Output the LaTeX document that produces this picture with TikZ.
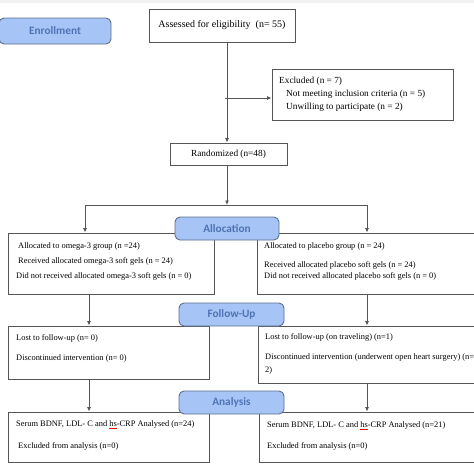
\documentclass[tikz,border=0pt]{standalone}
\usepackage{fontspec}
\setmainfont{Liberation Serif}
\newfontfamily\labfont{Carlito}
\usetikzlibrary{arrows.meta}
\definecolor{boxline}{RGB}{85,85,85}
\definecolor{labfill}{RGB}{166,196,245}
\definecolor{labline}{RGB}{95,110,140}
\definecolor{labtext}{RGB}{80,115,180}
\newcommand{\spellmark}[1]{{\color{red}\underline{\color{black}#1}}}
\tikzstyle{box}=[draw=boxline, fill=white, line width=0.9pt, inner sep=0pt]
\tikzstyle{phase}=[draw=labline, fill=labfill, line width=0.9pt, rounded corners=5pt, inner sep=0pt, font=\labfont\bfseries\fontsize{11.3}{13}\selectfont, text=labtext]
\tikzstyle{txt}=[anchor=west, inner sep=0pt, font=\fontsize{8.4}{10}\selectfont]
\tikzstyle{link}=[draw=boxline, line width=0.9pt]
\tikzstyle{arr}=[link, -{Latex[length=4.5pt,width=4pt]}]

\begin{document}
\begin{tikzpicture}[x=1pt,y=-1pt]
            \useasboundingbox (0,0) rectangle (474,474);
            \fill[gray!12] (0,0) rectangle (474,2.5);

            % boxes
            \node[box, minimum width=146pt, minimum height=33pt, font=\fontsize{10}{12}\selectfont] (assess) at (222,25.5) {Assessed for eligibility~~(n= 55)};
            \node[box, minimum width=181pt, minimum height=51pt] (excl) at (362.5,94.5) {};
            \node[box, minimum width=117pt, minimum height=22pt, font=\fontsize{9.3}{11}\selectfont] (rand) at (228.5,154) {Randomized (n=48)};
            \node[box, minimum width=206pt, minimum height=61pt] (alL) at (111,263.5) {};
            \node[box, minimum width=225pt, minimum height=61pt] (alR) at (369.5,263.5) {};
            \node[box, minimum width=201pt, minimum height=53pt] (fuL) at (108.5,352.5) {};
            \node[box, minimum width=224pt, minimum height=57pt] (fuR) at (370,354.5) {};
            \node[box, minimum width=201pt, minimum height=50pt] (anL) at (108.5,437) {};
            \node[box, minimum width=223pt, minimum height=50pt] (anR) at (370.5,437) {};

            % connectors
            \coordinate (trunk) at (227,0);
            \coordinate (exj) at (225,98);
            \coordinate (split) at (227,205);
            \coordinate (colL) at (85,205);
            \coordinate (colR) at (367,205);
            \coordinate (downL) at (89,0);
            \draw[arr] (assess.south -| trunk) -- (rand.north -| trunk);
            \draw[arr] (exj) -- (excl.west |- exj);
            \draw[arr] (rand.south -| trunk) -- (split);
            \draw[link] (colL) -- (colR);
            \draw[arr] (colL) -- (alL.north -| colL);
            \draw[arr] (colR) -- (alR.north -| colR);
            \draw[arr] (alL.south -| downL) -- (fuL.north -| downL);
            \draw[arr] (alR.south -| colR) -- (fuR.north -| colR);
            \draw[arr] (fuL.south -| downL) -- (anL.north -| downL);
            \draw[arr] (fuR.south -| colR) -- (anR.north -| colR);

            % phase labels
            \begin{scope}[every node/.style={phase}]
                \node[minimum width=112pt, minimum height=26pt] (enrol) at (55,31) {Enrollment};
                \node[minimum width=104pt, minimum height=23pt] (alloc) at (227,228.5) {Allocation};
                \node[minimum width=105pt, minimum height=23pt] (follow) at (231.5,314.5) {Follow-Up};
                \node[minimum width=105pt, minimum height=23pt] (analys) at (231.5,402.5) {Analysis};
            \end{scope}

            % box texts
            \begin{scope}[every node/.style={txt}]
                \node[font=\fontsize{9.3}{11}\selectfont] (ex1) at (279,81) {Excluded (n = 7)};
                \node[font=\fontsize{9.3}{11}\selectfont] (ex2) at (286,94) {Not meeting inclusion criteria (n = 5)};
                \node[font=\fontsize{9.3}{11}\selectfont] (ex3) at (286,107) {Unwilling to participate (n = 2)};

                \node (al1) at (18,246) {Allocated to omega-3 group (n =24)};
                \node (al2) at (18,261) {Received allocated omega-3 soft gels (n = 24)};
                \node (al3) at (16,276) {Did not received allocated omega-3 soft gels (n = 0)};
                \node (ar1) at (264,246) {Allocated to placebo group (n = 24)};
                \node (ar2) at (264,265) {Received allocated placebo soft gels (n = 24)};
                \node (ar3) at (264,276) {Did not received allocated placebo soft gels (n = 0)};

                \node (fl1) at (16,338) {Lost to follow-up (n= 0)};
                \node (fl2) at (16,358) {Discontinued intervention (n= 0)};
                \node (fr1) at (265,337) {Lost to follow-up (on traveling) (n=1)};
                \node (fr2) at (265,357) {Discontinued intervention (underwent open heart surgery) (n=};
                \node (fr3) at (265,370) {2)};

                \node (nl1) at (16,425) {Serum BDNF, LDL- C and \spellmark{hs}-CRP Analysed (n=24)};
                \node (nl2) at (18,446) {Excluded from analysis (n=0)};
                \node (nr1) at (267,426) {Serum BDNF, LDL- C and \spellmark{hs}-CRP Analysed (n=21)};
                \node (nr2) at (267,446) {Excluded from analysis (n=0)};
            \end{scope}
        \end{tikzpicture}
\end{document}
